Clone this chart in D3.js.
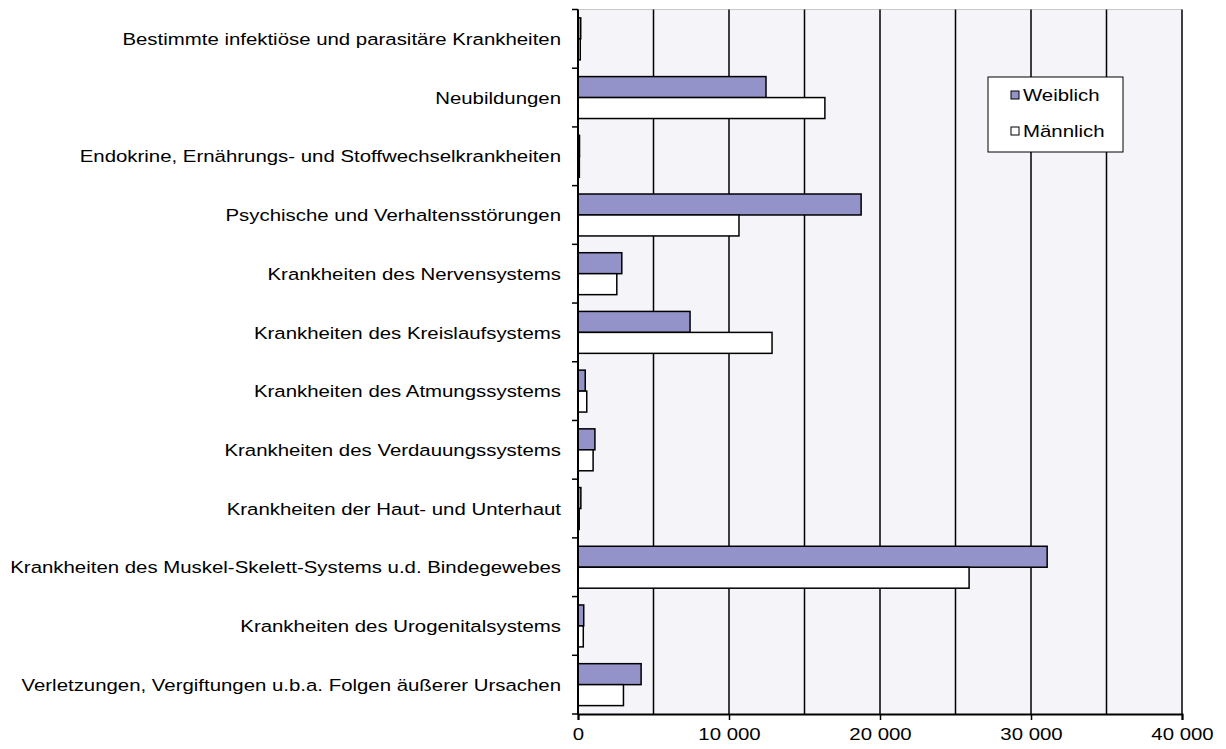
<!DOCTYPE html>
<html>
<head>
<meta charset="utf-8">
<script src="https://cdn.jsdelivr.net/npm/d3@7"></script>
<style>
  body { margin: 0; background: #fff; }
  svg { display: block; font-family: "Liberation Sans", Arial, sans-serif; }
</style>
</head>
<body>
<svg id="chart" width="1226" height="749"></svg>
<script>
// categories, top to bottom
var categories = [
  'Bestimmte infektiöse und parasitäre Krankheiten',
  'Neubildungen',
  'Endokrine, Ernährungs- und Stoffwechselkrankheiten',
  'Psychische und Verhaltensstörungen',
  'Krankheiten des Nervensystems',
  'Krankheiten des Kreislaufsystems',
  'Krankheiten des Atmungssystems',
  'Krankheiten des Verdauungssystems',
  'Krankheiten der Haut- und Unterhaut',
  'Krankheiten des Muskel-Skelett-Systems u.d. Bindegewebes',
  'Krankheiten des Urogenitalsystems',
  'Verletzungen, Vergiftungen u.b.a. Folgen äußerer Ursachen'
]
var weiblich = [180, 12450, 100, 18750, 2900, 7420, 480, 1120, 190, 31070, 380, 4180]
var maennlich = [150, 16350, 90, 10660, 2570, 12850, 580, 1000, 80, 25900, 350, 3010]
var seriesNames = ['Weiblich', 'Männlich']
var xTicks = [0, 10000, 20000, 30000, 40000]

;(function (d3) {
  var svg = d3.select('#chart')
  var left = 578, right = 1182, top = 9.5, bottom = 714
  var sx = 1.2 // glyphs in the original are stretched sideways
  var fs = 17

  var x = d3.scaleLinear().domain([0, 40000]).range([left, right])
  var y = d3.scaleBand().domain(categories).range([top, bottom])
  var sub = d3.scaleBand().domain(seriesNames).range([0, y.bandwidth()]).paddingOuter(0.4)
  var fills = {Weiblich: '#9393c9', 'Männlich': '#ffffff'}

  var de = d3.formatLocale({decimal: ',', thousands: ' ', grouping: [3], currency: ['', ' €']})
  var fmt = de.format(',')

  // plot background
  svg.append('rect')
    .attr('x', left).attr('y', top)
    .attr('width', right - left).attr('height', bottom - top)
    .attr('fill', '#f4f4f9')
  svg.append('line')
    .attr('x1', left).attr('x2', right).attr('y1', top).attr('y2', top)
    .attr('stroke', '#c8c8c8').attr('stroke-width', 1)

  // gridlines every 5000
  svg.append('g').selectAll('line')
    .data(d3.range(5000, 40001, 5000))
    .enter().append('line')
    .attr('x1', function (d) { return x(d) }).attr('x2', function (d) { return x(d) })
    .attr('y1', top).attr('y2', bottom)
    .attr('stroke', '#000').attr('stroke-width', 1.5)

  // bars
  var rows = categories.map(function (c, i) {
    return {c: c, vals: [{s: 'Weiblich', v: weiblich[i]}, {s: 'Männlich', v: maennlich[i]}]}
  })
  svg.append('g').selectAll('g')
    .data(rows)
    .enter().append('g')
    .attr('transform', function (d) { return 'translate(0,' + y(d.c) + ')' })
    .selectAll('rect')
    .data(function (d) { return d.vals })
    .enter().append('rect')
    .attr('x', x(0))
    .attr('y', function (d) { return sub(d.s) })
    .attr('width', function (d) { return x(d.v) - x(0) })
    .attr('height', sub.bandwidth())
    .attr('fill', function (d) { return fills[d.s] })
    .attr('stroke', '#000').attr('stroke-width', 1.5)

  // y axis: labels centred on bands, ticks on band edges
  var yAxis = svg.append('g')
    .attr('transform', 'translate(' + left + ',0)')
    .call(d3.axisLeft(y).tickSize(0).tickPadding(17))
  yAxis.select('.domain').remove()
  yAxis.selectAll('text')
    .attr('font-size', fs)
    .attr('font-family', '"Liberation Sans", Arial, sans-serif')
    .attr('fill', '#000')
    .attr('x', -17 / sx)
    .attr('dy', '0.36em')
    .attr('transform', 'scale(' + sx + ',1)')
  var edges = categories.map(function (c) { return y(c) }).concat([bottom])
  svg.append('g').selectAll('line')
    .data(edges)
    .enter().append('line')
    .attr('x1', left - 6).attr('x2', left)
    .attr('y1', function (d) { return d }).attr('y2', function (d) { return d })
    .attr('stroke', '#000').attr('stroke-width', 1.5)
  svg.append('line')
    .attr('x1', left).attr('x2', left).attr('y1', top).attr('y2', bottom + 1)
    .attr('stroke', '#000').attr('stroke-width', 2)

  // x axis
  var xAxis = svg.append('g')
    .attr('transform', 'translate(0,' + bottom + ')')
    .call(d3.axisBottom(x).tickValues(xTicks).tickSize(6).tickPadding(8).tickFormat(fmt))
  xAxis.select('.domain').attr('stroke-width', 2).attr('stroke', '#000')
  xAxis.selectAll('.tick line').attr('stroke-width', 1.5)
  xAxis.selectAll('text')
    .attr('font-size', fs)
    .attr('font-family', '"Liberation Sans", Arial, sans-serif')
    .attr('fill', '#000')
    .attr('transform', 'scale(' + sx + ',1)')

  // legend
  var lg = svg.append('g').attr('transform', 'translate(988,77)')
  lg.append('rect')
    .attr('width', 135).attr('height', 75)
    .attr('fill', '#fff').attr('stroke', '#000').attr('stroke-width', 1)
  var item = lg.selectAll('g.item')
    .data(seriesNames)
    .enter().append('g')
    .attr('class', 'item')
    .attr('transform', function (d, i) { return 'translate(23,' + (14 + i * 36) + ')' })
  item.append('rect')
    .attr('width', 8).attr('height', 8)
    .attr('fill', function (d) { return fills[d] })
    .attr('stroke', '#000').attr('stroke-width', 1)
  item.append('text')
    .attr('x', 12 / sx).attr('y', 9.5)
    .attr('transform', 'scale(' + sx + ',1)')
    .attr('font-size', fs)
    .text(function (d) { return d })
})(window.d3)
</script>
</body>
</html>
